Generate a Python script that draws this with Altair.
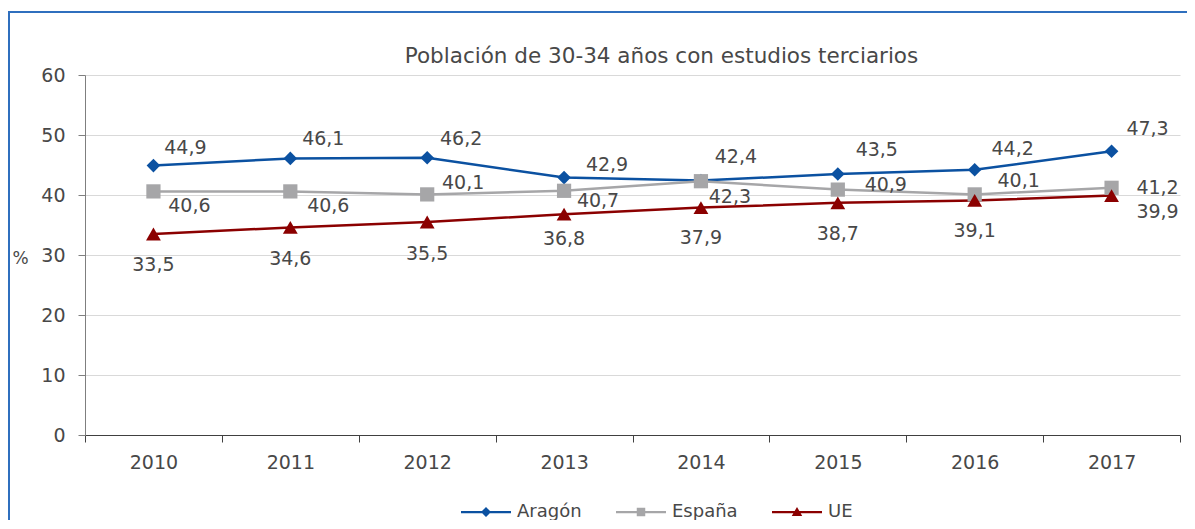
import altair as alt
import pandas as pd

# ---------------- data ----------------
years = [2010, 2011, 2012, 2013, 2014, 2015, 2016, 2017]
series_names = ["Aragón", "España", "UE"]
aragon = [44.9, 46.1, 46.2, 42.9, 42.4, 43.5, 44.2, 47.3]
espana = [40.6, 40.6, 40.1, 40.7, 42.3, 40.9, 40.1, 41.2]
ue = [33.5, 34.6, 35.5, 36.8, 37.9, 38.7, 39.1, 39.9]

# label placement (pixel offsets of each data label from its point)
aragon_ldx = [32, 33, 34, 43, 35, 39, 38, 36]
aragon_ldy = [-18, -19, -19, -13, -24, -24, -21, -22]
espana_ldx = [36, 38, 36, 34, 29, 48, 44, 46]
espana_ldy = [15, 15, -11, 10, 16, -5, -13, 0]
ue_ldx = [0, 0, 0, 0, 0, 0, 0, 46]
ue_ldy = [31, 32, 32, 25, 30, 31, 31, 16]

colors = ["#0B51A1", "#A6A6A8", "#8B0000"]
marker_shapes = ["diamond", "square", "triangle-up"]
marker_sizes = [185, 220, 240]
legend_shapes = [
    "M-1,-0.045L1,-0.045L1,0.045L-1,0.045Z M0,-0.2L0.2,0L0,0.2L-0.2,0Z",
    "M-1,-0.045L1,-0.045L1,0.045L-1,0.045Z M-0.17,-0.17L0.17,-0.17L0.17,0.17L-0.17,0.17Z",
    "M-1,-0.045L1,-0.045L1,0.045L-1,0.045Z M0,-0.2L0.21,0.16L-0.21,0.16Z",
]

rows = []
for name, vals, ldx, ldy in [
    ("Aragón", aragon, aragon_ldx, aragon_ldy),
    ("España", espana, espana_ldx, espana_ldy),
    ("UE", ue, ue_ldx, ue_ldy),
]:
    for y, v, dx, dy in zip(years, vals, ldx, ldy):
        rows.append({"year": y, "series": name, "value": v,
                     "label": f"{v:.1f}".replace(".", ","), "ldx": dx, "ldy": dy})
df = pd.DataFrame(rows)

FONT = "DejaVu Sans"
TXT = "#484848"
W, H = 1095, 360

tick_vals = [y - 0.5 for y in years] + [years[-1] + 0.5]

x_enc = alt.X(
    "year:Q",
    scale=alt.Scale(domain=[years[0] - 0.5, years[-1] + 0.5], nice=False, zero=False),
    axis=alt.Axis(
        values=tick_vals, title=None, grid=False,
        labelExpr=f"datum.value < {years[-1]} ? format(datum.value + 0.5, 'd') : ''",
        labelOffset=W / len(years) / 2, labelFlush=False, labelOverlap=False,
        labelBound=False, tickSize=7, tickColor="#404040", domainColor="#404040",
        domainWidth=1, labelFontSize=19, labelColor=TXT, labelFont=FONT, labelPadding=11,
    ),
)
y_enc = alt.Y(
    "value:Q",
    scale=alt.Scale(domain=[0, 60], nice=False),
    axis=alt.Axis(
        values=[0, 10, 20, 30, 40, 50, 60], title="%", titleAngle=0, titleX=-65, titleY=183,
        titleAlign="center", titleBaseline="middle", titleFontSize=17, titleFontWeight="normal",
        titleColor=TXT, titleFont=FONT, tickSize=7, tickColor="#7F7F7F", domainColor="#7F7F7F",
        gridColor="#D9D9D9", labelFontSize=19, labelColor=TXT, labelFont=FONT, labelPadding=13,
    ),
)

color_scale = alt.Scale(domain=series_names, range=colors)

base = alt.Chart(df)

lines = base.mark_line(strokeWidth=2.5).encode(
    x=x_enc, y=y_enc,
    color=alt.Color("series:N", scale=color_scale, legend=None),
    order=alt.Order("year:Q"),
)

points = base.mark_point(filled=True, opacity=1).encode(
    x=x_enc, y=y_enc,
    color=alt.Color("series:N", scale=color_scale, legend=None),
    shape=alt.Shape("series:N", scale=alt.Scale(domain=series_names, range=marker_shapes), legend=None),
    size=alt.Size("series:N", scale=alt.Scale(domain=series_names, range=marker_sizes), legend=None),
)

labels = base.mark_text(
    font=FONT, fontSize=19, color=TXT, align="center", baseline="middle",
    dx={"expr": "datum.ldx"}, dy={"expr": "datum.ldy"},
).encode(x=x_enc, y=y_enc, text="label:N")

legend_layer = base.transform_filter("false").mark_point(filled=True, opacity=1).encode(
    x=x_enc, y=y_enc,
    color=alt.Color("series:N", scale=alt.Scale(domain=series_names, range=colors),
                    legend=alt.Legend(title=None)),
    shape=alt.Shape("series:N", scale=alt.Scale(domain=series_names, range=legend_shapes),
                    legend=alt.Legend(title=None)),
)

frame_data = alt.Data(values=[{"f": 0}])
frame_top = alt.Chart(frame_data).mark_rule(color="#2F6FBE", strokeWidth=2).encode(
    x=alt.value(-76), x2=alt.value(W + 7), y=alt.value(-63)
)
frame_left = alt.Chart(frame_data).mark_rule(color="#2F6FBE", strokeWidth=2).encode(
    x=alt.value(-76), y=alt.value(-64), y2=alt.value(H + 90)
)

chart = (
    alt.layer(frame_top, frame_left, lines, points, labels, legend_layer)
    .resolve_scale(color="independent", shape="independent", size="independent")
    .properties(
        width=W, height=H,
        autosize=alt.AutoSizeParams(type="none"),
        padding={"left": 77, "top": 67, "right": 7, "bottom": 85},
        title=alt.TitleParams(
            "Población de 30-34 años con estudios terciarios",
            font=FONT, fontSize=21.5, fontWeight="normal", color=TXT,
            anchor="middle", frame="group", dx=29, offset=-57,
        ),
    )
    .configure_view(stroke=None)
    .configure_legend(
        orient="none", legendX=376, legendY=412, direction="horizontal",
        symbolSize=2500, symbolStrokeWidth=0, symbolOpacity=1,
        labelFont=FONT, labelFontSize=18, labelColor=TXT, labelOffset=6,
        columnPadding=34, padding=0,
    )
)

chart.save("out.html", embed_options={"renderer": "svg", "actions": False})
